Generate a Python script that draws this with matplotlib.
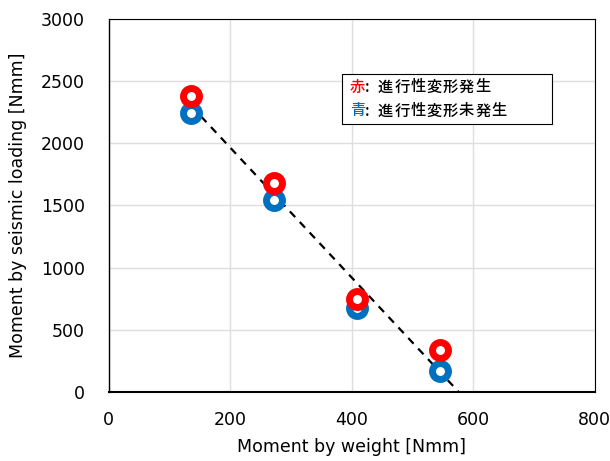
import matplotlib
matplotlib.use("Agg")
import matplotlib.pyplot as plt
from matplotlib.patches import Rectangle

# Moment by weight [Nmm] for each specimen
weight_moment = [136, 272, 409, 545]
# Seismic moment where progressive deformation occurred (red)
seismic_occurred = [2380, 1680, 750, 338]
# Seismic moment where progressive deformation did not occur (blue)
seismic_not_occurred = [2245, 1545, 676, 170]
# Boundary line (trend) end points
boundary_x = [136, 576]
boundary_y = [2300, 0]

x_ticks = [0, 200, 400, 600, 800]
y_ticks = [0, 500, 1000, 1500, 2000, 2500, 3000]

legend_rows = [('赤', '#ff0000', ':進行性変形発生'),
               ('青', '#0070c0', ':進行性変形未発生')]

plt.rcParams['font.family'] = ['DejaVu Sans', 'Noto Sans CJK JP']

fig = plt.figure(figsize=(6.10, 4.61), dpi=100)
ax = fig.add_axes([0.178, 0.150, 0.797, 0.809])

ax.plot(boundary_x, boundary_y, linestyle=(0, (3.5, 3)), color='black', lw=1.6, zorder=2)

ring = dict(linestyle='none', marker='o', markersize=11.5, markeredgewidth=5,
            markerfacecolor='white', zorder=3)
ax.plot(weight_moment, seismic_not_occurred, markeredgecolor='#0070c0', **ring)
ax.plot(weight_moment, seismic_occurred, markeredgecolor='#ff0000', **ring)

ax.set_xlim(0, 800)
ax.set_ylim(0, 3000)
ax.set_xticks(x_ticks)
ax.set_yticks(y_ticks)
ax.grid(True, color='#dedede', lw=1)
ax.set_axisbelow(True)
ax.tick_params(length=0, labelsize=12.5)
ax.tick_params(axis='x', pad=14)
ax.tick_params(axis='y', pad=17)
for s in ax.spines.values():
    s.set_color('black')
    s.set_linewidth(0.8)
ax.spines['bottom'].set_linewidth(1.5)
ax.spines['left'].set_linewidth(1.0)

ax.set_xlabel('Moment by weight [Nmm]', fontsize=12.5, labelpad=6)
ax.set_ylabel('Moment by seismic loading [Nmm]', fontsize=12.5, labelpad=10)

# Legend box, written character by character with a fixed pitch
fig.patches.append(Rectangle((342 / 610, 1 - 124 / 461), 210 / 610, 50 / 461,
                             transform=fig.transFigure, facecolor='white',
                             edgecolor='black', lw=0.8, zorder=5))
jp = ['Noto Sans CJK JP']
for i, (head, col, rest) in enumerate(legend_rows):
    yy = 1 - (87 + 24 * i) / 461
    fig.text(350 / 610, yy, head, color=col, fontsize=11, family=jp,
             fontweight='medium', va='center', zorder=6)
    xx = 365
    for ch in rest:
        fig.text(xx / 610, yy, ch, color='black', fontsize=11, family=jp,
                 fontweight='medium', va='center', zorder=6)
        xx += 13 if ch == ':' else 16.2

fig.savefig('out.png', dpi=100)
